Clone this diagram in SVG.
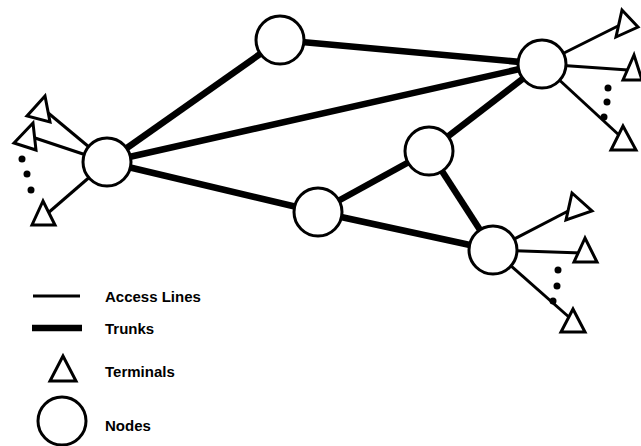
<svg xmlns="http://www.w3.org/2000/svg" width="641" height="446" viewBox="0 0 641 446">
<style>
.trunk{stroke:#000;stroke-width:6.5;fill:none;stroke-linecap:butt}
.access{stroke:#000;stroke-width:3;fill:none}
.node{fill:#fff;stroke:#000;stroke-width:3}
.term{fill:#fff;stroke:#000;stroke-width:3;stroke-linejoin:miter}
.dot{fill:#000}
.lbl{font-family:"Liberation Sans",Arial,sans-serif;font-weight:bold;font-size:15px;fill:#000}
</style>
<rect width="641" height="446" fill="#fff"/>
<g id="connectors">
<line class="trunk" x1="107" y1="162" x2="280" y2="40"/>
<line class="trunk" x1="107" y1="162" x2="542" y2="64"/>
<line class="trunk" x1="107" y1="162" x2="318" y2="212"/>
<line class="trunk" x1="280" y1="40" x2="542" y2="64"/>
<line class="trunk" x1="318" y1="212" x2="429" y2="151"/>
<line class="trunk" x1="429" y1="151" x2="542" y2="64"/>
<line class="trunk" x1="429" y1="151" x2="493" y2="250"/>
<line class="trunk" x1="318" y1="212" x2="493" y2="250"/>
<line class="access" x1="107" y1="162" x2="47" y2="112"/>
<line class="access" x1="107" y1="162" x2="35" y2="138"/>
<line class="access" x1="107" y1="162" x2="48" y2="213"/>
<line class="access" x1="542" y1="64" x2="622" y2="24"/>
<line class="access" x1="542" y1="64" x2="628" y2="70"/>
<line class="access" x1="542" y1="64" x2="620" y2="136"/>
<line class="access" x1="493" y1="250" x2="574" y2="208"/>
<line class="access" x1="493" y1="250" x2="582" y2="253"/>
<line class="access" x1="493" y1="250" x2="570" y2="318"/>
</g>
<g id="node-left"><circle class="node" cx="107" cy="162" r="24"/></g>
<g id="node-top"><circle class="node" cx="280" cy="40" r="24"/></g>
<g id="node-topright"><circle class="node" cx="542" cy="64" r="24"/></g>
<g id="node-mid"><circle class="node" cx="429" cy="151" r="24"/></g>
<g id="node-lowmid"><circle class="node" cx="318" cy="212" r="24"/></g>
<g id="node-bottomright"><circle class="node" cx="493" cy="250" r="24"/></g>
<g id="terminals-left">
<polygon class="term" points="45,96 27,116 50,122"/>
<polygon class="term" points="33,123 14,143 36,150"/>
<polygon class="term" points="43,201 32,225 55,225"/>
<circle class="dot" cx="22" cy="159" r="3.5"/>
<circle class="dot" cx="27" cy="174" r="3.5"/>
<circle class="dot" cx="31" cy="190" r="3.5"/>
</g>
<g id="terminals-topright">
<polygon class="term" points="622,10 616,37 638,27"/>
<polygon class="term" points="634,55 623,80 642,80"/>
<polygon class="term" points="623,126 611,150 636,150"/>
<circle class="dot" cx="608" cy="88" r="3.5"/>
<circle class="dot" cx="607" cy="102" r="3.5"/>
<circle class="dot" cx="604" cy="117" r="3.5"/>
</g>
<g id="terminals-bottomright">
<polygon class="term" points="572,193 566,220 592,211"/>
<polygon class="term" points="585,238 574,262 597,262"/>
<polygon class="term" points="573,309 561,332 585,332"/>
<circle class="dot" cx="558" cy="270" r="3.5"/>
<circle class="dot" cx="557" cy="286" r="3.5"/>
<circle class="dot" cx="553" cy="301" r="3.5"/>
</g>
<g id="legend">
<line class="access" x1="33" y1="296" x2="80" y2="296"/>
<text class="lbl" x="105" y="302">Access Lines</text>
<line class="trunk" x1="32" y1="328" x2="82" y2="328"/>
<text class="lbl" x="105" y="334">Trunks</text>
<polygon class="term" points="63,356 50,381 76,381"/>
<text class="lbl" x="105" y="377">Terminals</text>
<circle class="node" cx="62" cy="421" r="24"/>
<text class="lbl" x="105" y="431">Nodes</text>
</g>
</svg>
